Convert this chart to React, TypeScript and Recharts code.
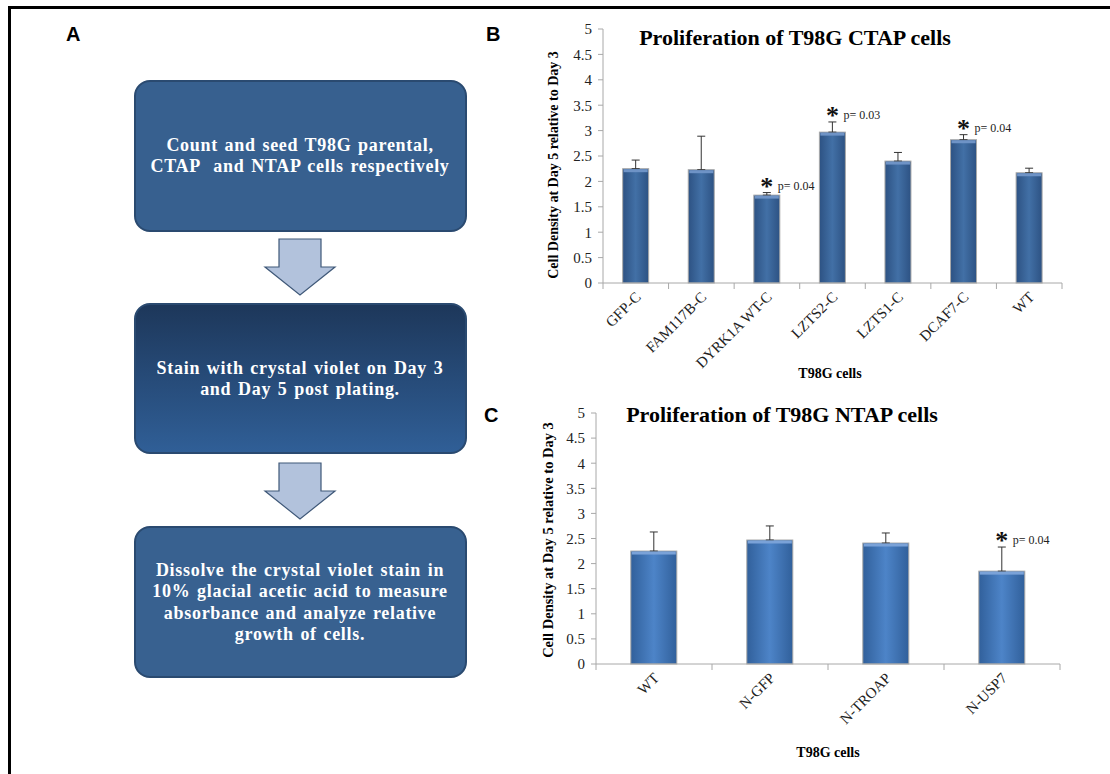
import React from "react";
import { BarChart, Bar, XAxis, YAxis, ErrorBar, LabelList } from "recharts";

// panel B: CTAP constructs
const ctapCells = ["GFP-C", "FAM117B-C", "DYRK1A WT-C", "LZTS2-C", "LZTS1-C", "DCAF7-C", "WT"];
const ctapDensity = [2.25, 2.23, 1.73, 2.97, 2.4, 2.82, 2.17];
const ctapError = [0.17, 0.66, 0.05, 0.2, 0.17, 0.1, 0.09];
const ctapP = ["", "", "0.04", "0.03", "", "0.04", ""];

// panel C: NTAP constructs
const ntapCells = ["WT", "N-GFP", "N-TROAP", "N-USP7"];
const ntapDensity = [2.25, 2.47, 2.41, 1.85];
const ntapError = [0.38, 0.28, 0.2, 0.48];
const ntapP = ["", "", "", "0.04"];

const yTicks = [0, 0.5, 1, 1.5, 2, 2.5, 3, 3.5, 4, 4.5, 5];
const yLabel = "Cell Density at Day 5 relative to Day 3";
const xLabel = "T98G cells";

const serif = "'Liberation Serif', 'Times New Roman', serif";
const sans = "'Liberation Sans', Arial, sans-serif";

// bars sit in the middle of each slot so the axis ticks fall on the slot edges (Excel style)
function buildRows(cells: string[], density: number[], err: number[], p: string[]) {
  return cells.map((cell, i) => ({ cell, density: density[i], err: [0, err[i]], p: p[i], slot: i + 0.5 }));
}

const ctapRows = buildRows(ctapCells, ctapDensity, ctapError, ctapP);
const ntapRows = buildRows(ntapCells, ntapDensity, ntapError, ntapP);

const makeBarShape = (grad: string) => (props: any) => {
  const { x, y, width, height } = props;
  if (!height) return null;
  return <rect x={x} y={y} width={width} height={height} fill={`url(#${grad})`} stroke="#a9a9a9" strokeWidth={1} />;
};

// light bevel on the top edge, drawn after the error bars so it hides their lower cap
const makeTopEdge = (edge: string) => (props: any) => {
  const { x, y, width } = props;
  return <rect x={x + 1} y={y + 0.5} width={width - 2} height={3} fill={edge} />;
};

const makeSigLabel = (rows: any[]) => (props: any) => {
  const { x, y, width, height, index } = props;
  const row = rows[index];
  if (!row || !row.p) return null;
  const top = y - (row.err[1] / row.density) * height;
  const cx = x + width / 2;
  return (
    <g>
      <text x={cx} y={top + 2} textAnchor="middle" fontFamily={serif} fontWeight="bold" fontSize={26} fill="#111">
        *
      </text>
      <text x={cx + 11} y={top - 3} fontFamily={serif} fontSize={12} fill="#222">
        p= {row.p}
      </text>
    </g>
  );
};

const makeSlantTick = (cells: string[], plotWidth: number) => (props: any) => {
  const { x, y, payload } = props;
  const i = payload.value;
  if (i >= cells.length) return null;
  const w = typeof props.width === "number" && props.width > 0 ? props.width : plotWidth;
  const ax = x + w / cells.length / 2 + 6;
  const ay = y + 7;
  return (
    <text x={ax} y={ay} transform={`rotate(-45 ${ax} ${ay})`} textAnchor="end" fontFamily={serif} fontSize={15} fill="#222">
      {cells[i]}
    </text>
  );
};

function Panel({ rows, grad, light, dark, edge, width, height, margin, yWidth }: any) {
  const n = rows.length;
  const bounds = Array.from({ length: n + 1 }, (_, i) => i);
  const plotWidth = width - margin.right - margin.left - yWidth;
  return (
    <BarChart width={width} height={height} data={rows} margin={margin} barCategoryGap="30%">
      <defs>
        <linearGradient id={grad} x1="0" y1="0" x2="1" y2="0">
          <stop offset="0%" stopColor={dark} />
          <stop offset="50%" stopColor={light} />
          <stop offset="100%" stopColor={dark} />
        </linearGradient>
      </defs>
      <XAxis
        type="number"
        dataKey="slot"
        domain={[0, n]}
        ticks={bounds}
        interval={0}
        tickSize={6}
        tickMargin={2}
        height={90}
        stroke="#a8a8a8"
        tick={makeSlantTick(rows.map((r: any) => r.cell), plotWidth)}
      />
      <YAxis
        domain={[0, 5]}
        ticks={yTicks}
        width={yWidth}
        tickSize={5}
        tickMargin={6}
        stroke="#a8a8a8"
        tick={{ fontFamily: serif, fontSize: 15, fill: "#222" }}
        interval={0}
      />
      <Bar dataKey="density" shape={makeBarShape(grad)} isAnimationActive={false}>
        <ErrorBar dataKey="err" width={4} stroke="#333" strokeWidth={1} direction="y" isAnimationActive={false} />
        <LabelList dataKey="density" content={makeTopEdge(edge)} />
        <LabelList dataKey="p" content={makeSigLabel(rows)} />
      </Bar>
    </BarChart>
  );
}

const boxText1 = ["Count and seed T98G parental,", "CTAP  and NTAP cells respectively"];
const boxText2 = ["Stain with crystal violet on Day 3", "and Day 5 post plating."];
const boxText3 = [
  "Dissolve the crystal violet stain in",
  "10% glacial acetic acid to measure",
  "absorbance and analyze relative",
  "growth of cells.",
];

function BoxLines({ lines, firstBaseline }: { lines: string[]; firstBaseline: number }) {
  return (
    <>
      {lines.map((t, i) => (
        <text
          key={i}
          x={300}
          y={firstBaseline + i * 21.3}
          textAnchor="middle"
          fontFamily={serif}
          fontWeight="bold"
          fontSize={18}
          letterSpacing={0.7}
          wordSpacing={1.5}
          fill="#fff"
          style={{ whiteSpace: "pre" }}
        >
          {t}
        </text>
      ))}
    </>
  );
}

function arrow(top: number) {
  const p = [
    [279, top],
    [321, top],
    [321, top + 28],
    [335, top + 28],
    [300, top + 56],
    [265, top + 28],
    [279, top + 28],
  ];
  return <polygon points={p.map((q) => q.join(",")).join(" ")} fill="#b2c2dc" stroke="#3f5878" strokeWidth={1.2} />;
}

export default function App() {
  return (
    <div style={{ position: "absolute", left: 0, top: 0, width: 1110, height: 774, background: "#fff", overflow: "hidden" }}>
      <svg width={1110} height={774} style={{ position: "absolute", left: 0, top: 0 }}>
        <defs>
          <linearGradient id="box2" x1="0" y1="0" x2="0" y2="1">
            <stop offset="0%" stopColor="#1d375a" />
            <stop offset="100%" stopColor="#305f97" />
          </linearGradient>
        </defs>
        <path d="M9.5 774 V7.5 H1110" stroke="#000" strokeWidth={3} fill="none" />
        <text x={66} y={41} fontFamily={sans} fontWeight="bold" fontSize={20} fill="#000">A</text>
        <text x={486} y={41} fontFamily={sans} fontWeight="bold" fontSize={20} fill="#000">B</text>
        <text x={484} y={422} fontFamily={sans} fontWeight="bold" fontSize={20} fill="#000">C</text>

        <rect x={135} y={81} width={331} height={150} rx={15} fill="#37608f" stroke="#2a4a70" strokeWidth={2} />
        <BoxLines lines={boxText1} firstBaseline={151} />
        {arrow(239)}
        <rect x={135} y={304} width={331} height={149} rx={15} fill="url(#box2)" stroke="#2a4a70" strokeWidth={2} />
        <BoxLines lines={boxText2} firstBaseline={374} />
        {arrow(463)}
        <rect x={135} y={527} width={331} height={150} rx={15} fill="#386190" stroke="#2a4a70" strokeWidth={2} />
        <BoxLines lines={boxText3} firstBaseline={576} />

        <text x={795} y={45} textAnchor="middle" fontFamily={serif} fontWeight="bold" fontSize={22} fill="#000">
          Proliferation of T98G CTAP cells
        </text>
        <text x={782} y={422} textAnchor="middle" fontFamily={serif} fontWeight="bold" fontSize={22} fill="#000">
          Proliferation of T98G NTAP cells
        </text>
        <text x={558} y={165} transform="rotate(-90 558 165)" textAnchor="middle" fontFamily={serif} fontWeight="bold" fontSize={14} fill="#000">
          {yLabel}
        </text>
        <text x={553} y={540} transform="rotate(-90 553 540)" textAnchor="middle" fontFamily={serif} fontWeight="bold" fontSize={14.5} fill="#000">
          {yLabel}
        </text>
        <text x={830} y={378} textAnchor="middle" fontFamily={serif} fontWeight="bold" fontSize={14} fill="#000">
          {xLabel}
        </text>
        <text x={828} y={757} textAnchor="middle" fontFamily={serif} fontWeight="bold" fontSize={14} fill="#000">
          {xLabel}
        </text>
      </svg>

      <div style={{ position: "absolute", left: 480, top: 0 }}>
        <Panel
          rows={ctapRows}
          grad="gradB"
          light="#4270a6"
          dark="#2d5283"
          edge="#6e93c6"
          width={630}
          height={400}
          margin={{ top: 29, right: 48, bottom: 27, left: 0 }}
          yWidth={123}
        />
      </div>
      <div style={{ position: "absolute", left: 480, top: 390 }}>
        <Panel
          rows={ntapRows}
          grad="gradC"
          light="#4d84c8"
          dark="#31609b"
          edge="#7aa2d8"
          width={630}
          height={384}
          margin={{ top: 23, right: 50, bottom: 20, left: 0 }}
          yWidth={116}
        />
      </div>
    </div>
  );
}
